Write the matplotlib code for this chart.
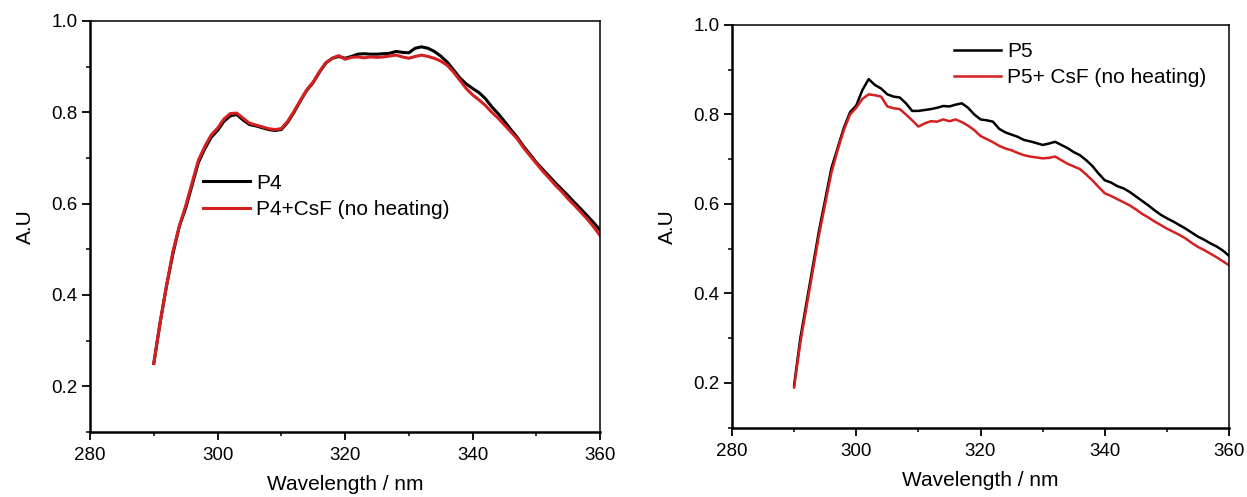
import numpy as np
import matplotlib
matplotlib.use("Agg")
import matplotlib.pyplot as plt
from matplotlib.ticker import MultipleLocator, FormatStrFormatter

plt.rcParams['font.family'] = ['Liberation Sans', 'DejaVu Sans']

# Wavelength grid (nm)
wavelength = np.arange(290, 361, 1)

# Absorbance, P4 series
p4 = [0.25, 0.34, 0.42, 0.49, 0.55, 0.59, 0.64, 0.69, 0.72, 0.745,
      0.76, 0.78, 0.792, 0.795, 0.783, 0.773, 0.770, 0.766, 0.762, 0.760,
      0.762, 0.778, 0.800, 0.825, 0.848, 0.865, 0.888, 0.908, 0.918, 0.922,
      0.918, 0.922, 0.927, 0.928, 0.927, 0.927, 0.928, 0.929, 0.933, 0.931,
      0.930, 0.940, 0.943, 0.940, 0.933, 0.923, 0.910, 0.893, 0.875, 0.862,
      0.852, 0.843, 0.830, 0.812, 0.797, 0.780, 0.762, 0.745, 0.725, 0.708,
      0.690, 0.675, 0.660, 0.645, 0.631, 0.617, 0.602, 0.588, 0.573, 0.558,
      0.542]
p4_csf = [0.25, 0.34, 0.42, 0.495, 0.55, 0.595, 0.645, 0.695, 0.725, 0.75,
          0.765, 0.785, 0.797, 0.798, 0.787, 0.776, 0.772, 0.768, 0.764, 0.762,
          0.764, 0.780, 0.802, 0.826, 0.849, 0.866, 0.889, 0.908, 0.918, 0.924,
          0.916, 0.920, 0.921, 0.919, 0.921, 0.920, 0.921, 0.923, 0.925, 0.921,
          0.918, 0.922, 0.925, 0.922, 0.918, 0.912, 0.903, 0.888, 0.870, 0.852,
          0.838, 0.827, 0.815, 0.800, 0.787, 0.772, 0.757, 0.742, 0.722, 0.705,
          0.688, 0.671, 0.656, 0.640, 0.626, 0.610, 0.596, 0.581, 0.566, 0.549,
          0.530]

# Absorbance, P5 series
p5 = [0.195, 0.30, 0.38, 0.46, 0.54, 0.61, 0.68, 0.725, 0.77, 0.805,
      0.82, 0.855, 0.879, 0.866, 0.858, 0.845, 0.840, 0.838, 0.825, 0.808,
      0.808, 0.810, 0.812, 0.815, 0.819, 0.818, 0.822, 0.825, 0.815, 0.800,
      0.789, 0.787, 0.784, 0.768, 0.760, 0.755, 0.750, 0.743, 0.740, 0.736,
      0.732, 0.735, 0.739, 0.732, 0.725, 0.716, 0.709, 0.698, 0.685, 0.668,
      0.653, 0.648, 0.640, 0.635, 0.627, 0.617, 0.607, 0.597, 0.586, 0.576,
      0.568, 0.561, 0.553, 0.545, 0.536, 0.527, 0.520, 0.512, 0.505, 0.496,
      0.484]
p5_csf = [0.19, 0.29, 0.37, 0.45, 0.53, 0.60, 0.67, 0.72, 0.765, 0.80,
          0.815, 0.835, 0.845, 0.843, 0.840, 0.818, 0.814, 0.812, 0.800, 0.787,
          0.773, 0.780, 0.785, 0.784, 0.789, 0.785, 0.789, 0.783, 0.775, 0.765,
          0.752, 0.745, 0.738, 0.730, 0.724, 0.720, 0.714, 0.709, 0.706, 0.704,
          0.702, 0.703, 0.706, 0.698, 0.690, 0.684, 0.678, 0.666, 0.653, 0.638,
          0.624, 0.618, 0.611, 0.604, 0.597, 0.588, 0.578, 0.570, 0.561, 0.553,
          0.545, 0.538, 0.531, 0.523, 0.513, 0.504, 0.497, 0.489, 0.481, 0.472,
          0.463]

labels_left = ["P4", "P4+CsF (no heating)"]
labels_right = ["P5", "P5+ CsF (no heating)"]

BLACK = "#000000"
RED = "#d42020"

fig = plt.figure(figsize=(12.47, 4.97), dpi=100)
ax1 = fig.add_axes([0.0722, 0.1308, 0.4090, 0.8273])
ax2 = fig.add_axes([0.5870, 0.1394, 0.3986, 0.8103])


def style_axes(ax):
    ax.set_xlim(280, 360)
    ax.set_ylim(0.1, 1.0)
    ax.xaxis.set_major_locator(MultipleLocator(20))
    ax.xaxis.set_minor_locator(MultipleLocator(10))
    ax.yaxis.set_major_locator(MultipleLocator(0.2))
    ax.yaxis.set_minor_locator(MultipleLocator(0.1))
    ax.yaxis.set_major_formatter(FormatStrFormatter('%.1f'))
    ax.tick_params(which='major', direction='out', length=5.8, width=1.3,
                   labelsize=13.5, pad=3, top=False, right=False)
    ax.tick_params(which='minor', direction='out', length=3.2, width=1.1,
                   top=False, right=False)
    ax.tick_params(axis='x', which='major', pad=5)
    for side in ('left', 'bottom'):
        ax.spines[side].set_linewidth(1.8)
    for side in ('top', 'right'):
        ax.spines[side].set_linewidth(1.1)
    ax.set_xlabel("Wavelength / nm", fontsize=15, labelpad=8)


ax1.plot(wavelength, p4, color=BLACK, lw=2.2, label=labels_left[0])
ax1.plot(wavelength, p4_csf, color=RED, lw=2.2, label=labels_left[1])
style_axes(ax1)
ax1.set_ylabel("A.U", fontsize=15, labelpad=12)
ax1.legend(loc='upper left', bbox_to_anchor=(0.222, 0.628), frameon=False,
           fontsize=15, handlelength=2.25, handletextpad=0.3,
           labelspacing=0.35, borderpad=0, borderaxespad=0)

ax2.plot(wavelength, p5, color=BLACK, lw=1.8, label=labels_right[0])
ax2.plot(wavelength, p5_csf, color=RED, lw=1.8, label=labels_right[1])
style_axes(ax2)
ax2.set_ylabel("A.U", fontsize=15, labelpad=12)
ax2.legend(loc='upper left', bbox_to_anchor=(0.447, 0.958), frameon=False,
           fontsize=15, handlelength=2.25, handletextpad=0.3,
           labelspacing=0.35, borderpad=0, borderaxespad=0)

fig.savefig("out.png", dpi=100)
